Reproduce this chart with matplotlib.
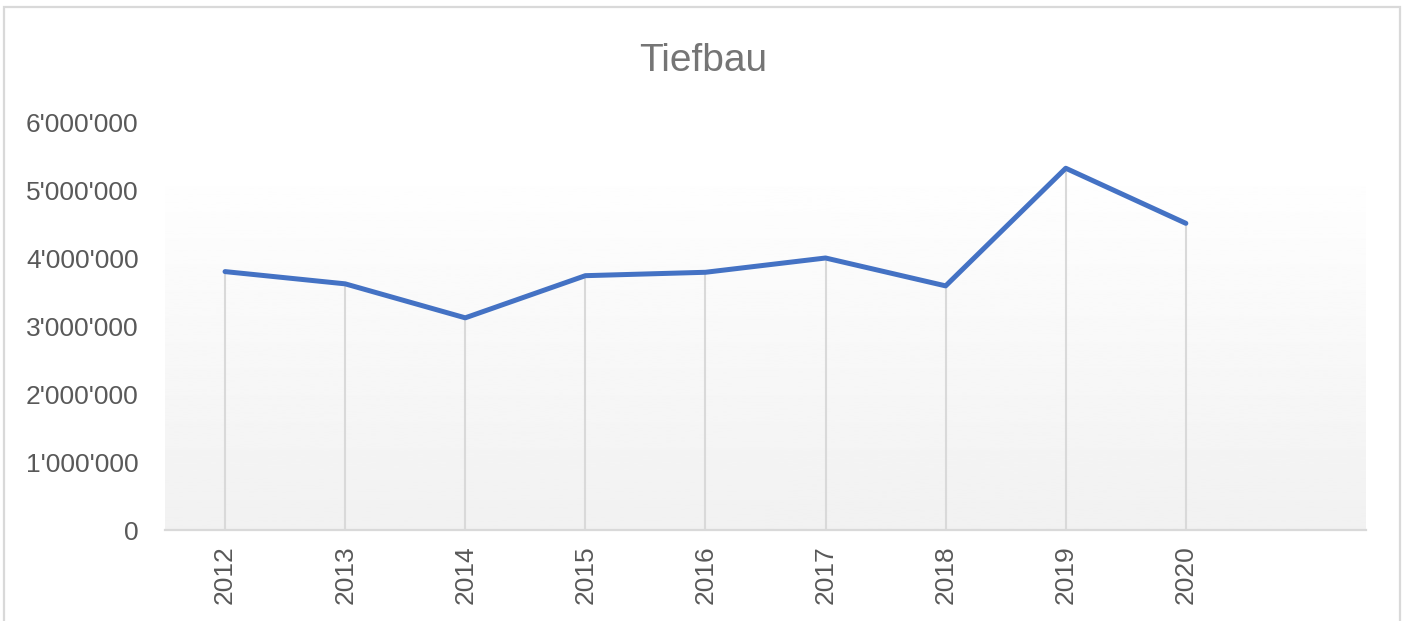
import numpy as np
import matplotlib
matplotlib.use("Agg")
import matplotlib.pyplot as plt
from matplotlib.patches import Rectangle
from matplotlib.ticker import FuncFormatter

years = ["2012", "2013", "2014", "2015", "2016", "2017", "2018", "2019", "2020"]
values = [3_800_000, 3_620_000, 3_120_000, 3_740_000, 3_790_000,
          4_000_000, 3_590_000, 5_320_000, 4_510_000]
n_slots = 10  # Excel axis keeps one empty category on the right

plt.rcParams['font.family'] = ['Liberation Sans', 'DejaVu Sans']

fig = plt.figure(figsize=(14.08, 6.21), dpi=100)
W, H = 1408, 621
ax = fig.add_axes([165 / W, (H - 530) / H, (1366 - 165) / W, (530 - 122) / H])

# outer chart frame
fig.patches.append(Rectangle((4 / W, -0.05), (1400 - 4) / W, (H - 7) / H + 0.05,
                             transform=fig.transFigure, fill=False,
                             edgecolor='#d9d9d9', lw=1.6, clip_on=False))

x = np.arange(len(years))
ax.set_xlim(-0.5, n_slots - 0.5)
ax.set_ylim(0, 6_000_000)

# plot-area gradient (white -> light grey)
grad = np.linspace(0.945, 1.0, 256).reshape(-1, 1)
ax.imshow(grad, extent=(-0.5, n_slots - 0.5, 0, 5_450_000), origin='lower',
          cmap='gray', vmin=0, vmax=1, aspect='auto', zorder=0)

# drop lines
ax.vlines(x, 0, values, color='#d9d9d9', lw=1.5, zorder=1)
ax.plot(x, values, color='#4472C4', lw=3.6, solid_capstyle='round',
        solid_joinstyle='round', zorder=3)

ax.set_xticks(x)
ax.set_xticklabels(years, rotation=90, fontsize=19, color='#595959')
ax.set_yticks(np.arange(0, 6_000_001, 1_000_000))
ax.yaxis.set_major_formatter(FuncFormatter(lambda v, p: f"{int(v):,}".replace(",", "'")))
ax.tick_params(axis='y', length=0, pad=19, labelsize=19, labelcolor='#595959')
ax.tick_params(axis='x', length=0, pad=11)

for s in ['top', 'right', 'left']:
    ax.spines[s].set_visible(False)
ax.spines['bottom'].set_color('#d9d9d9')
ax.spines['bottom'].set_linewidth(1.6)
ax.spines['bottom'].set_zorder(2)

fig.text(703 / W, (H - 61) / H, "Tiefbau", ha='center', va='center',
         fontsize=28, color='#757575')

fig.savefig("out.png", dpi=100)
